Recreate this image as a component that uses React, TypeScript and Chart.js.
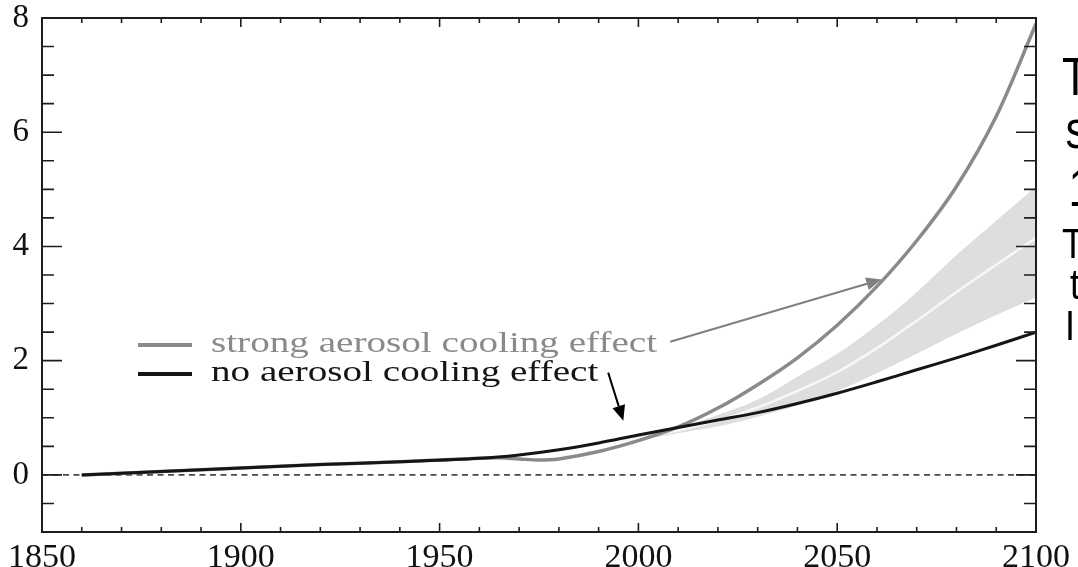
import React, { useEffect, useRef } from "react";
import { Chart, registerables } from "chart.js";

Chart.register(...registerables);

// Warming with no aerosol cooling (°C)
const noAerosolYears = [1860, 1880, 1900, 1920, 1940, 1960, 1970, 1980, 1990, 2000, 2010, 2020, 2030, 2040, 2050, 2060, 2070, 2080, 2090, 2100];
const noAerosol = [0, 0.06, 0.12, 0.18, 0.23, 0.29, 0.35, 0.44, 0.56, 0.7, 0.83, 0.96, 1.09, 1.25, 1.43, 1.63, 1.84, 2.05, 2.27, 2.5];

// Warming with strong aerosol cooling (°C)
const strongYears = [1860, 1880, 1900, 1920, 1940, 1960, 1965, 1970, 1975, 1980, 1990, 2000, 2010, 2020, 2030, 2040, 2050, 2060, 2070, 2080, 2090, 2100];
const strongAerosol = [0, 0.06, 0.12, 0.18, 0.23, 0.29, 0.3, 0.28, 0.26, 0.28, 0.41, 0.6, 0.84, 1.17, 1.58, 2.05, 2.62, 3.3, 4.1, 5.05, 6.28, 7.9];

// Projection range (shaded) and its central estimate
const bandYears = [1995, 2000, 2010, 2020, 2030, 2040, 2050, 2060, 2070, 2080, 2090, 2100];
const bandUpper = [0.62, 0.68, 0.83, 1.05, 1.32, 1.72, 2.12, 2.62, 3.2, 3.85, 4.45, 5.05];
const bandMid = [0.6, 0.64, 0.78, 0.95, 1.18, 1.47, 1.8, 2.22, 2.7, 3.2, 3.68, 4.15];
const bandLower = [0.58, 0.61, 0.73, 0.85, 1.02, 1.22, 1.47, 1.78, 2.12, 2.47, 2.8, 3.1];

// Zero reference line
const zeroYears = [1850, 2100];
const zeroValues = [0, 0];

// Axis ranges and ticks
const xRange = [1850, 2100];
const yRange = [-1, 8];
const xMajorStep = 50;
const xMinorStep = 10;
const yMajorStep = 2;
const yMinorStep = 0.5;

// Legend entries
const legendLabels = ["strong aerosol cooling effect", "no aerosol cooling effect"];
const legendColors = ["#8a8a8a", "#151515"];

// Annotation arrows [fromYear, fromValue, toYear, toValue]
const arrowGray = [2008.0, 2.33, 2061.1, 3.42];
const arrowBlack = [1992.4, 1.79, 1996.2, 0.95];

const pts = (xs: number[], ys: number[]) => xs.map((x, i) => ({ x, y: ys[i] }));

const SERIF = '"Liberation Serif", "Times New Roman", serif';

function drawArrow(ctx: CanvasRenderingContext2D, x0: number, y0: number, x1: number, y1: number, color: string) {
  const ang = Math.atan2(y1 - y0, x1 - x0);
  const head = 15;
  const half = 6.5;
  const bx = x1 - head * Math.cos(ang);
  const by = y1 - head * Math.sin(ang);
  ctx.strokeStyle = color;
  ctx.fillStyle = color;
  ctx.lineWidth = 2;
  ctx.beginPath();
  ctx.moveTo(x0, y0);
  ctx.lineTo(bx, by);
  ctx.stroke();
  ctx.beginPath();
  ctx.moveTo(x1, y1);
  ctx.lineTo(bx + half * Math.sin(ang), by - half * Math.cos(ang));
  ctx.lineTo(bx - half * Math.sin(ang), by + half * Math.cos(ang));
  ctx.closePath();
  ctx.fill();
}

const frameAndTicks = {
  id: "frameAndTicks",
  afterDatasetsDraw(chart: any) {
    const { ctx, chartArea: a, scales } = chart;
    const x = scales.x;
    const y = scales.y;
    ctx.save();
    ctx.strokeStyle = "#1e1e1e";
    ctx.lineWidth = 2;
    ctx.strokeRect(a.left, a.top, a.right - a.left, a.bottom - a.top);
    ctx.lineWidth = 1.6;
    ctx.beginPath();
    for (let yr = xRange[0] + xMinorStep; yr < xRange[1]; yr += xMinorStep) {
      const px = x.getPixelForValue(yr);
      const len = yr % xMajorStep === 0 ? 9 : 5;
      ctx.moveTo(px, a.bottom);
      ctx.lineTo(px, a.bottom - len);
      ctx.moveTo(px, a.top);
      ctx.lineTo(px, a.top + len);
    }
    for (let v = yRange[0] + yMinorStep; v < yRange[1] - 1e-6; v += yMinorStep) {
      const py = y.getPixelForValue(v);
      const len = Math.abs(v % yMajorStep) < 1e-6 ? 20 : 12;
      ctx.moveTo(a.left, py);
      ctx.lineTo(a.left + len, py);
      ctx.moveTo(a.right, py);
      ctx.lineTo(a.right - len, py);
    }
    ctx.stroke();
    ctx.restore();
  },
  afterDraw(chart: any) {
    const { ctx, scales } = chart;
    const x = scales.x;
    const y = scales.y;
    ctx.save();
    // legend
    const rows = [345, 374];
    rows.forEach((ry, i) => {
      ctx.strokeStyle = legendColors[i];
      ctx.lineWidth = 4;
      ctx.beginPath();
      ctx.moveTo(138, ry);
      ctx.lineTo(192, ry);
      ctx.stroke();
      ctx.save();
      ctx.translate(211, ry + 7);
      ctx.scale(1.35, 1);
      ctx.font = `29px ${SERIF}`;
      ctx.fillStyle = legendColors[i];
      ctx.textBaseline = "alphabetic";
      ctx.fillText(legendLabels[i], 0, 0);
      ctx.restore();
    });
    // arrows
    drawArrow(ctx, x.getPixelForValue(arrowGray[0]), y.getPixelForValue(arrowGray[1]), x.getPixelForValue(arrowGray[2]), y.getPixelForValue(arrowGray[3]), "#808080");
    drawArrow(ctx, x.getPixelForValue(arrowBlack[0]), y.getPixelForValue(arrowBlack[1]), x.getPixelForValue(arrowBlack[2]), y.getPixelForValue(arrowBlack[3]), "#000000");
    ctx.restore();
  },
};

export default function App() {
  const ref = useRef<HTMLCanvasElement | null>(null);

  useEffect(() => {
    if (!ref.current) return;
    const line = { pointRadius: 0, tension: 0.35, fill: false };
    const chart = new Chart(ref.current, {
      type: "line",
      data: {
        datasets: [
          { ...line, label: legendLabels[1], data: pts(noAerosolYears, noAerosol), borderColor: "#151515", borderWidth: 3 },
          { ...line, label: legendLabels[0], data: pts(strongYears, strongAerosol), borderColor: "#8a8a8a", borderWidth: 3.5 },
          { ...line, label: "central", data: pts(bandYears, bandMid), borderColor: "#f7f7f7", borderWidth: 2.5 },
          {
            ...line,
            label: "upper",
            data: pts(bandYears, bandUpper),
            borderWidth: 0,
            borderColor: "rgba(0,0,0,0)",
            backgroundColor: "#dedede",
            fill: "+1",
          },
          { ...line, label: "lower", data: pts(bandYears, bandLower), borderWidth: 0, borderColor: "rgba(0,0,0,0)" },
          {
            label: "zero",
            data: pts(zeroYears, zeroValues),
            borderColor: "#4a4a4a",
            borderWidth: 1.6,
            borderDash: [6, 4.5],
            pointRadius: 0,
            fill: false,
          },
        ],
      },
      options: {
        responsive: false,
        animation: false,
        events: [],
        layout: { padding: { top: 18, right: 42, left: 0, bottom: 0 } },
        plugins: { legend: { display: false }, tooltip: { enabled: false } },
        scales: {
          x: {
            type: "linear",
            min: xRange[0],
            max: xRange[1],
            grid: { display: false, drawTicks: false },
            border: { display: false },
            ticks: {
              stepSize: xMajorStep,
              padding: 6,
              color: "#111",
              font: { family: SERIF, size: 34 },
              maxRotation: 0,
              autoSkip: false,
              callback: (v: any) => String(v),
            },
            afterFit: (s: any) => {
              s.height = 35;
              s.paddingLeft = 0;
              s.paddingRight = 0;
            },
          },
          y: {
            min: yRange[0],
            max: yRange[1],
            grid: { display: false, drawTicks: false },
            border: { display: false },
            ticks: {
              stepSize: yMajorStep,
              padding: 13,
              color: "#111",
              font: { family: SERIF, size: 33 },
              callback: (v: any) => (v >= 0 && v % yMajorStep === 0 ? String(v) : ""),
            },
            afterFit: (s: any) => {
              s.width = 42;
              s.paddingTop = 0;
              s.paddingBottom = 0;
            },
          },
        },
      },
      plugins: [frameAndTicks],
    });
    return () => chart.destroy();
  }, []);

  const glyph = (left: number, top: number, size: number): React.CSSProperties => ({
    position: "absolute",
    left,
    top,
    fontFamily: '"Liberation Sans", Arial, sans-serif',
    fontSize: size,
    lineHeight: `${size}px`,
    color: "#000",
    whiteSpace: "nowrap",
    transform: "scaleY(1.2)",
    transformOrigin: "left top",
  });

  return (
    <div style={{ position: "absolute", left: 0, top: 0, width: 1078, height: 567, background: "#fff", overflow: "hidden" }}>
      <canvas ref={ref} width={1078} height={567} style={{ display: "block" }} />
      <div style={{ position: "absolute", left: 1040, top: 0, width: 38, height: 567, overflow: "hidden" }}>
        <div style={glyph(22, 51, 44)}>T</div>
        <div style={glyph(25.5, 104, 44)}>s</div>
        <div style={glyph(28.5, 162, 44)}>1</div>
        <div style={glyph(22, 222, 36)}>T</div>
        <div style={glyph(30, 263, 36)}>t</div>
        <div style={glyph(25, 304, 36)}>I</div>
      </div>
    </div>
  );
}
